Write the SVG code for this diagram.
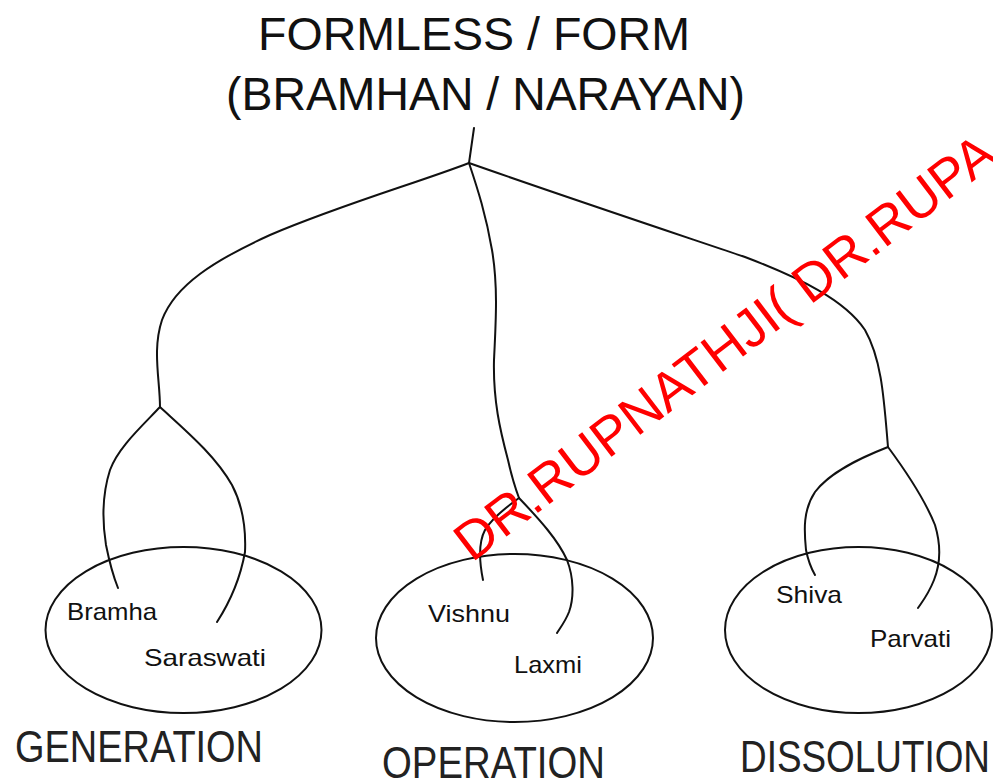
<svg xmlns="http://www.w3.org/2000/svg" width="993" height="783" viewBox="0 0 993 783">
<style>
.bg{fill:#fff}
.ln{fill:none;stroke:#111;stroke-width:2;stroke-linecap:round;stroke-linejoin:round}
.el{fill:none;stroke:#111;stroke-width:2}
.title{font-family:"Liberation Sans",Arial,sans-serif;font-size:47px;fill:#111}
.name{font-family:"Liberation Sans",Arial,sans-serif;font-size:24px;fill:#111}
.cap{font-family:"Liberation Sans",Arial,sans-serif;font-size:44px;fill:#222}
.wm{font-family:"Liberation Sans",Arial,sans-serif;font-size:54px;fill:#ff0000}
</style>
<rect class="bg" x="0" y="0" width="993" height="783"/>
<g id="connectors">
<path class="ln" d="M474,128 L469,163"/>
<path class="ln" d="M469,163 C420,182 340,205 270,235 C215,260 175,285 162,320 C152,350 160,380 160,407"/>
<path class="ln" d="M160,407 C140,428 118,448 110,470 C102,495 102,520 106,545 C110,565 114,578 118,588"/>
<path class="ln" d="M160,407 C185,430 215,455 232,485 C244,508 246,530 245,552 C240,580 228,605 217,622"/>
<path class="ln" d="M469,163 C478,190 486,215 492,250 C498,285 496,320 494,360 C493,400 500,430 508,460 C512,478 516,490 519,498"/>
<path class="ln" d="M519,498 C505,508 492,518 485,530 C477,545 480,565 483,580"/>
<path class="ln" d="M519,498 C540,520 558,540 567,560 C574,578 574,598 569,612 C565,622 560,628 557,633"/>
<path class="ln" d="M469,163 C560,195 680,235 745,257 C800,278 845,300 865,330 C882,360 884,400 888,447"/>
<path class="ln" d="M888,447 C860,458 830,472 815,492 C803,510 804,530 806,550 C808,560 811,568 815,575"/>
<path class="ln" d="M888,447 C905,470 925,500 935,525 C941,545 940,565 934,580 C928,595 922,602 918,608"/>
</g>
<g id="title">
<text class="title" x="258" y="50" textLength="432" lengthAdjust="spacingAndGlyphs">FORMLESS / FORM</text>
<text class="title" x="226" y="110" textLength="519" lengthAdjust="spacingAndGlyphs">(BRAMHAN / NARAYAN)</text>
</g>
<g id="generation">
<ellipse class="el" cx="183.5" cy="630" rx="138" ry="83"/>
<text class="name" x="67" y="620" textLength="90" lengthAdjust="spacingAndGlyphs">Bramha</text>
<text class="name" x="144" y="666" textLength="122" lengthAdjust="spacingAndGlyphs">Saraswati</text>
<text class="cap" x="15" y="762" textLength="248" lengthAdjust="spacingAndGlyphs">GENERATION</text>
</g>
<g id="operation">
<ellipse class="el" cx="514.5" cy="638" rx="138.5" ry="84"/>
<text class="name" x="428" y="622" textLength="82" lengthAdjust="spacingAndGlyphs">Vishnu</text>
<text class="name" x="514" y="673" textLength="68" lengthAdjust="spacingAndGlyphs">Laxmi</text>
<text class="cap" x="382" y="778" textLength="223" lengthAdjust="spacingAndGlyphs">OPERATION</text>
</g>
<g id="dissolution">
<ellipse class="el" cx="858.5" cy="630" rx="133.5" ry="83"/>
<text class="name" x="776" y="603" textLength="66" lengthAdjust="spacingAndGlyphs">Shiva</text>
<text class="name" x="870" y="647" textLength="81" lengthAdjust="spacingAndGlyphs">Parvati</text>
<text class="cap" x="740" y="772" textLength="250" lengthAdjust="spacingAndGlyphs">DISSOLUTION</text>
</g>
<g id="watermark">
<text class="wm" transform="translate(472,563) rotate(-37.3)">DR.RUPNATHJI( DR.RUPA</text>
</g>
</svg>
